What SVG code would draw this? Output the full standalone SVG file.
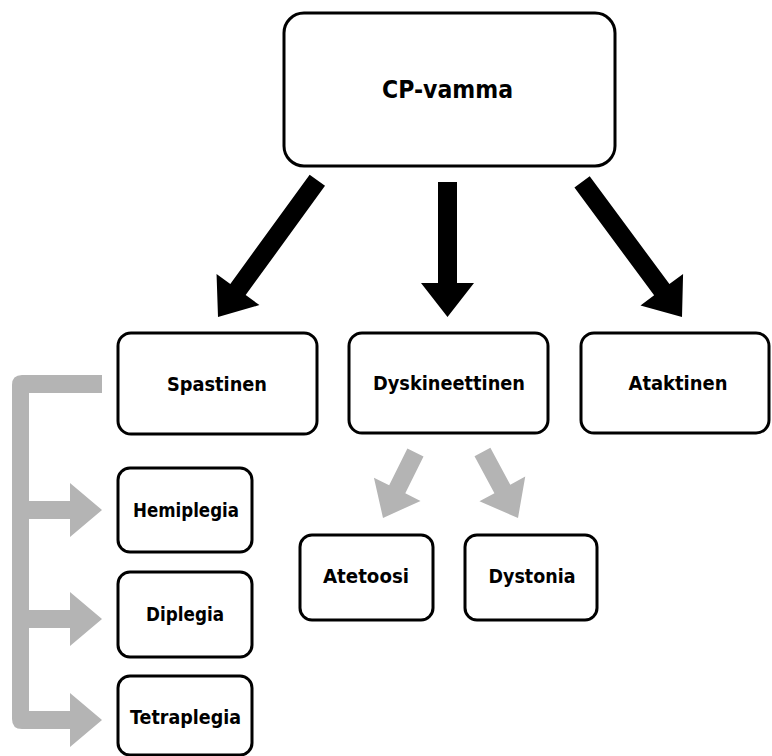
<svg xmlns="http://www.w3.org/2000/svg" width="772" height="756" viewBox="0 0 772 756">
<style>
.box{fill:#fff;stroke:#000;stroke-width:3}
.t{font-family:"DejaVu Sans","Liberation Sans",sans-serif;font-weight:bold;font-size:19px;fill:#000;text-anchor:middle}
.big{font-size:25px}
.blk{fill:#000}
.gry{fill:#b4b4b4}
</style>
<rect width="772" height="756" fill="#fff"/>
<g id="connectors">
<path class="blk" transform="translate(447.5,317)" d="M0,0 L-26.5,-34 L-9.5,-34 L-9.5,-135 L9.5,-135 L9.5,-34 L26.5,-34 Z"/>
<path class="blk" transform="translate(218,317) rotate(36)" d="M0,0 L-26.5,-34 L-9.5,-34 L-9.5,-169 L9.5,-169 L9.5,-34 L26.5,-34 Z"/>
<path class="blk" transform="translate(682,317) rotate(-36.5)" d="M0,0 L-26.5,-34 L-9.5,-34 L-9.5,-168 L9.5,-168 L9.5,-34 L26.5,-34 Z"/>
<path class="gry" transform="translate(383,518) rotate(26.4)" d="M0,0 L-26,-32 L-9,-32 L-9,-73 L9,-73 L9,-32 L26,-32 Z"/>
<path class="gry" transform="translate(518,518) rotate(-28.3)" d="M0,0 L-26,-33 L-9,-33 L-9,-75 L9,-75 L9,-33 L26,-33 Z"/>
<path class="gry" d="M102,375 H22 Q12,375 12,385 V719 Q12,729 22,729 H70 V747 L102,720 L70,693 V711 H29 V628 H70 V646 L102,619 L70,592 V610 H29 V519 H70 V537 L102,510 L70,483 V501 H29 V393 H102 Z"/>
</g>
<g id="cp">
<rect class="box" x="284" y="13" width="331" height="153" rx="20"/>
<text class="t big" x="447.5" y="98" textLength="131" lengthAdjust="spacingAndGlyphs">CP-vamma</text>
</g>
<g id="spastinen">
<rect class="box" x="118" y="333" width="199" height="101" rx="13"/>
<text class="t" x="217" y="391" textLength="100" lengthAdjust="spacingAndGlyphs">Spastinen</text>
</g>
<g id="dyskineettinen">
<rect class="box" x="349" y="333" width="199" height="100" rx="13"/>
<text class="t" x="449" y="390" textLength="152" lengthAdjust="spacingAndGlyphs">Dyskineettinen</text>
</g>
<g id="ataktinen">
<rect class="box" x="581" y="333" width="188" height="100" rx="13"/>
<text class="t" x="678" y="390" textLength="99" lengthAdjust="spacingAndGlyphs">Ataktinen</text>
</g>
<g id="hemiplegia">
<rect class="box" x="118" y="468" width="134" height="84" rx="12"/>
<text class="t" x="186" y="517" textLength="106" lengthAdjust="spacingAndGlyphs">Hemiplegia</text>
</g>
<g id="diplegia">
<rect class="box" x="118" y="572" width="134" height="85" rx="12"/>
<text class="t" x="185" y="621" textLength="78" lengthAdjust="spacingAndGlyphs">Diplegia</text>
</g>
<g id="tetraplegia">
<rect class="box" x="118" y="676" width="134" height="79" rx="12"/>
<text class="t" x="185.5" y="724" textLength="111" lengthAdjust="spacingAndGlyphs">Tetraplegia</text>
</g>
<g id="atetoosi">
<rect class="box" x="300" y="535" width="133" height="85" rx="12"/>
<text class="t" x="366" y="583" textLength="86" lengthAdjust="spacingAndGlyphs">Atetoosi</text>
</g>
<g id="dystonia">
<rect class="box" x="465" y="535" width="132" height="85" rx="12"/>
<text class="t" x="532" y="583" textLength="87" lengthAdjust="spacingAndGlyphs">Dystonia</text>
</g>
</svg>
